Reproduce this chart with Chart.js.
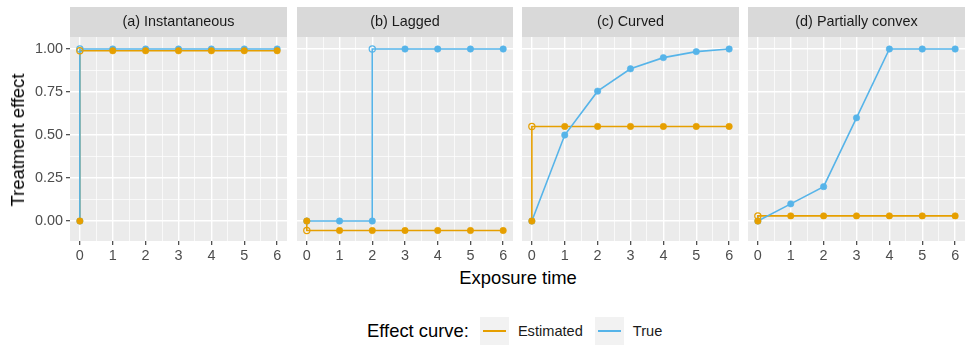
<!DOCTYPE html>
<html>
<head>
<meta charset="utf-8">
<script src="https://cdn.jsdelivr.net/npm/chart.js@4.4.1/dist/chart.umd.min.js"></script>
<style>
  body { margin: 0; background: #fff; font-family: "Liberation Sans", Arial, sans-serif; }
  #wrap { position: relative; width: 966px; height: 350px; overflow: hidden; background: #fff; }
  canvas { position: absolute; top: 7px; }
  #ytitle { position: absolute; left: 18px; top: 140px; transform: translate(-50%, -50%) rotate(-90deg); font-size: 18.4px; white-space: nowrap; color: #000; }
  #xtitle { position: absolute; left: 518px; top: 278px; transform: translate(-50%, -50%); font-size: 18.4px; white-space: nowrap; color: #000; }
  #legend { position: absolute; left: 367px; top: 317px; height: 28px; display: flex; align-items: center; white-space: nowrap; }
  #legend .title { font-size: 18.4px; margin-right: 11px; }
  #legend .key { width: 29px; height: 28px; background: #F2F2F2; position: relative; }
  #legend .key span { position: absolute; left: 3px; right: 3px; top: 13px; height: 1.6px; }
  #legend .lab { font-size: 14.6px; color: #1A1A1A; margin-left: 9px; margin-right: 12px; }
</style>
</head>
<body>
<div id="wrap">
  <canvas id="p0" width="287" height="256" style="left:0px"></canvas>
  <canvas id="p1" width="216" height="256" style="left:297px"></canvas>
  <canvas id="p2" width="217" height="256" style="left:522px"></canvas>
  <canvas id="p3" width="217" height="256" style="left:748px"></canvas>
  <div id="ytitle">Treatment effect</div>
  <div id="xtitle">Exposure time</div>
  <div id="legend">
    <span class="title">Effect curve:</span>
    <div class="key"><span style="background:#E69F00"></span></div><span class="lab">Estimated</span>
    <div class="key"><span style="background:#56B4E9"></span></div><span class="lab">True</span>
  </div>
</div>
<script>
// data
const times = [0, 1, 2, 3, 4, 5, 6];
const panelTitles = ['(a) Instantaneous', '(b) Lagged', '(c) Curved', '(d) Partially convex'];

const estimatedA = [0, 0.99, 0.99, 0.99, 0.99, 0.99, 0.99];
const trueA      = [0, 1, 1, 1, 1, 1, 1];
const estimatedB = [0, -0.055, -0.055, -0.055, -0.055, -0.055, -0.055];
const trueB      = [0, 0, 0, 1, 1, 1, 1];
const estimatedC = [0, 0.55, 0.55, 0.55, 0.55, 0.55, 0.55];
const trueC      = [0, 0.5, 0.755, 0.885, 0.95, 0.985, 1];
const estimatedD = [0, 0.03, 0.03, 0.03, 0.03, 0.03, 0.03];
const trueD      = [0, 0.1, 0.2, 0.6, 1, 1, 1];

// jumps: right-hand limit drawn as an open circle
const estimatedJumps = [{x: 0, y: 0.99}, {x: 0, y: -0.055}, {x: 0, y: 0.55}, {x: 0, y: 0.03}];
const trueJumps      = [{x: 0, y: 1}, {x: 2, y: 1}, null, null];

const xMajorTicks = [0, 1, 2, 3, 4, 5, 6];
const xMinorTicks = [0.5, 1.5, 2.5, 3.5, 4.5, 5.5];
const yMajorTicks = [0, 0.25, 0.5, 0.75, 1];
const yMinorTicks = [0.125, 0.375, 0.625, 0.875];
const yTickLabels = ['0.00', '0.25', '0.50', '0.75', '1.00'];

const estimatedSeries = [estimatedA, estimatedB, estimatedC, estimatedD];
const trueSeries = [trueA, trueB, trueC, trueD];

const COL_EST = '#E69F00';
const COL_TRUE = '#56B4E9';
const FONT = '"Liberation Sans", Arial, sans-serif';

function idx(list, v) {
    return list.findIndex(m => Math.abs(m - v) < 1e-9);
}

function pathPoints(values, jump) {
    const pts = [];
    times.forEach((t, i) => {
        pts.push({x: t, y: values[i]});
        if (jump && jump.x === t) pts.push({x: t, y: jump.y});
    });
    return pts;
}

function pointSets(values, jump, color) {
    return [
        { // filled points
            data: times.map((t, i) => ({x: t, y: values[i]})),
            showLine: false,
            pointRadius: 3.2,
            pointBorderWidth: 0.6,
            pointBackgroundColor: color,
            pointBorderColor: color
        },
        { // open circle at the jump
            data: jump ? [jump] : [],
            showLine: false,
            pointRadius: 3.1,
            pointBorderWidth: 1.2,
            pointBackgroundColor: 'rgba(0,0,0,0)',
            pointBorderColor: color
        }
    ];
}

function lineSet(values, jump, color) {
    return {
        data: pathPoints(values, jump),
        showLine: true,
        borderColor: color,
        borderWidth: 1.6,
        pointRadius: 0,
        tension: 0
    };
}

// strip + grey panel background
const panelBg = {
    id: 'panelBg',
    beforeDraw(chart) {
        const a = chart.chartArea;
        const ctx = chart.ctx;
        ctx.save();
        ctx.fillStyle = '#EBEBEB';
        ctx.fillRect(a.left, a.top, a.right - a.left, a.bottom - a.top);
        ctx.fillStyle = '#D9D9D9';
        ctx.fillRect(a.left, 0, a.right - a.left, a.top);
        ctx.restore();
    }
};

function createPanel(i) {
    const first = i === 0;
    // first dataset is drawn on top: points over lines, estimated over true
    const datasets = [
        ...pointSets(estimatedSeries[i], estimatedJumps[i], COL_EST),
        ...pointSets(trueSeries[i], trueJumps[i], COL_TRUE),
        lineSet(trueSeries[i], trueJumps[i], COL_TRUE),
        lineSet(estimatedSeries[i], estimatedJumps[i], COL_EST)
    ];

    new Chart(document.getElementById('p' + i), {
        type: 'scatter',
        data: { datasets: datasets },
        plugins: [panelBg],
        options: {
            responsive: false,
            animation: false,
            events: [],
            layout: { padding: 0, autoPadding: false },
            plugins: {
                legend: { display: false },
                tooltip: { enabled: false },
                title: {
                    display: true,
                    text: panelTitles[i],
                    fullSize: false,
                    color: '#1A1A1A',
                    font: { family: FONT, size: 14.4, weight: 'normal', lineHeight: 1.2 },
                    padding: { top: 6.4, bottom: 6.3 }
                }
            },
            scales: {
                x: {
                    type: 'linear',
                    min: -0.3,
                    max: 6.3,
                    afterBuildTicks: s => {
                        s.ticks = [...xMajorTicks, ...xMinorTicks].sort((a, b) => a - b).map(v => ({value: v}));
                    },
                    afterFit: s => { s.height = 22; },
                    border: { display: false },
                    grid: {
                        color: '#FFFFFF',
                        lineWidth: c => idx(xMajorTicks, c.tick.value) >= 0 ? 1.4 : 0.7,
                        tickColor: c => idx(xMajorTicks, c.tick.value) >= 0 ? '#333333' : 'rgba(0,0,0,0)',
                        tickWidth: 1.1,
                        tickLength: 4
                    },
                    ticks: {
                        autoSkip: false,
                        maxRotation: 0,
                        padding: 2,
                        color: '#4D4D4D',
                        font: { family: FONT, size: 14.4 },
                        callback: v => idx(xMajorTicks, v) >= 0 ? String(v) : ''
                    }
                },
                y: {
                    type: 'linear',
                    min: -0.116,
                    max: 1.07,
                    afterBuildTicks: s => {
                        s.ticks = [...yMajorTicks, ...yMinorTicks].sort((a, b) => a - b).map(v => ({value: v}));
                    },
                    afterFit: s => { s.width = first ? 70 : 0; },
                    border: { display: false },
                    grid: {
                        color: '#FFFFFF',
                        lineWidth: c => idx(yMajorTicks, c.tick.value) >= 0 ? 1.4 : 0.7,
                        tickColor: c => idx(yMajorTicks, c.tick.value) >= 0 ? '#333333' : 'rgba(0,0,0,0)',
                        tickWidth: 1.1,
                        tickLength: 4,
                        drawTicks: first
                    },
                    ticks: {
                        display: first,
                        autoSkip: false,
                        padding: 3,
                        color: '#4D4D4D',
                        font: { family: FONT, size: 14.4 },
                        callback: v => {
                            const k = idx(yMajorTicks, v);
                            return k >= 0 ? yTickLabels[k] : '';
                        }
                    }
                }
            }
        }
    });
}

[0, 1, 2, 3].forEach(createPanel);
</script>
</body>
</html>
